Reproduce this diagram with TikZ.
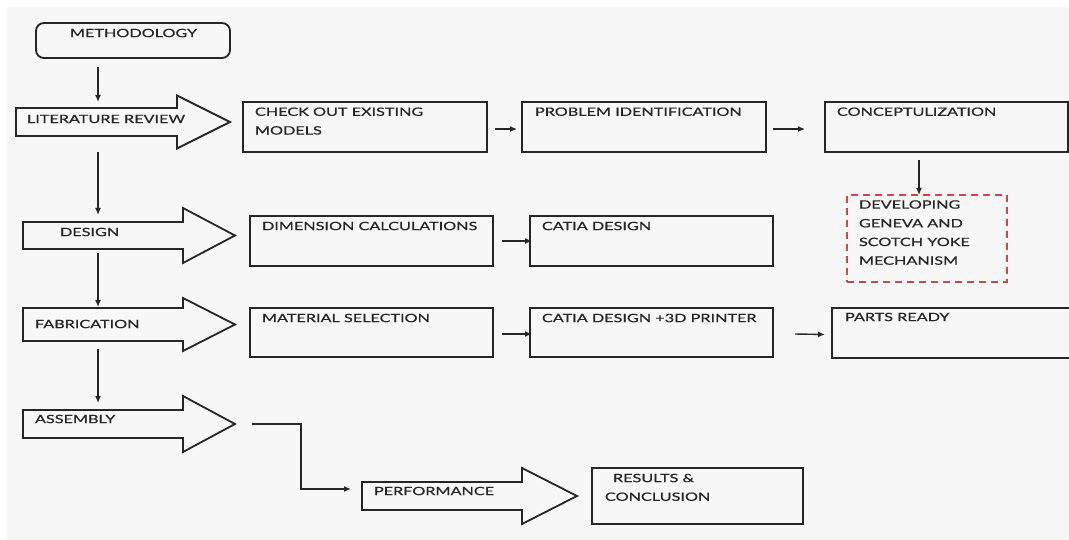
\documentclass[tikz,border=0pt]{standalone}
\usepackage{fontspec}
\setmainfont{Lato}[FakeStretch=1.41,FakeBold=0.6]
\usetikzlibrary{arrows.meta,calc}
\definecolor{bgc}{HTML}{F7F7F7}
\definecolor{ink}{HTML}{262626}
\definecolor{dred}{HTML}{D04545}
\tikzset{
 box/.style={draw=ink, line width=1.8pt, inner sep=0pt, outer sep=0pt},
 dbox/.style={draw=dred, line width=1.5pt, dash pattern=on 7pt off 5pt, inner sep=0pt, outer sep=0pt},
 inv/.style={inner sep=0pt, outer sep=0pt},
 blk/.style={draw=ink, line width=1.8pt, line join=miter},
 conn/.style={draw=ink, line width=1.4pt, -{Latex[length=7pt,width=6pt]}},
 txt/.style={inner sep=0pt, outer sep=0pt, anchor=north west, text=ink, align=left, font=\fontsize{11.5}{18.7}\selectfont},
}
\newcommand\barrow[7]{%
 \node[inv, minimum width={#3-#2}, minimum height={2*#6}] (#1) at ({(#2+#3)/2},#5) {};
 \coordinate (#1-tip) at (#4,#5);
 \draw[blk] (#1.north west) -- (#1.north east) -- (#3,#5-#7) -- (#1-tip) -- (#3,#5+#7) -- (#1.south east) -- (#1.south west) -- cycle;
}
\begin{document}
\begin{tikzpicture}[x=1pt,y=-1pt]
\useasboundingbox (0,0) rectangle (1069,540);
\fill[white] (0,0) rectangle (1069,540);
\fill[bgc] (7,7) rectangle (1069,540);

% boxes
\node[box, rounded corners=8pt, minimum width=194, minimum height=35] (meth) at (133,40.5) {};
\node[box, minimum width=244, minimum height=50] (check) at (365,127) {};
\node[box, minimum width=244, minimum height=50] (prob) at (644,127) {};
\node[box, minimum width=243, minimum height=50] (concept) at (946.5,127) {};
\node[dbox, minimum width=160, minimum height=87] (dev) at (927,238.5) {};
\node[box, minimum width=243, minimum height=50] (dim) at (371.5,241) {};
\node[box, minimum width=243, minimum height=50] (catia) at (651.5,241) {};
\node[box, minimum width=243, minimum height=49] (mat) at (371.5,332.5) {};
\node[box, minimum width=243, minimum height=49] (catia3d) at (651.5,332.5) {};
\node[box, minimum width=242, minimum height=50] (parts) at (953,333) {};
\node[box, minimum width=211, minimum height=56] (results) at (697.5,496) {};

% block arrows
\barrow{lit}{16}{177}{230}{122}{14}{26.5}
\barrow{design}{23}{183}{235}{235.5}{13.5}{27.5}
\barrow{fab}{23}{183}{235}{324.5}{16.5}{26.5}
\barrow{asm}{23}{183}{235}{424}{14}{28}
\barrow{perf}{362}{522}{577}{496}{14}{28}

% texts
\node[txt] (methT) at (70,28.8) {METHODOLOGY};
\node[txt] (litT) at (27,114.8) {LITERATURE REVIEW};
\node[txt] (checkT) at (255,107.5) {CHECK OUT EXISTING\\MODELS};
\node[txt] (probT) at (535,107.5) {PROBLEM IDENTIFICATION};
\node[txt] (conceptT) at (837,107.5) {CONCEPTULIZATION};
\node[txt] (devT) at (859,200.3) {DEVELOPING\\GENEVA AND\\SCOTCH YOKE\\MECHANISM};
\node[txt] (designT) at (60,227.8) {DESIGN};
\node[txt] (dimT) at (262,221.8) {DIMENSION CALCULATIONS};
\node[txt] (catiaT) at (542,221.8) {CATIA DESIGN};
\node[txt] (fabT) at (35,319.8) {FABRICATION};
\node[txt] (matT) at (262,313.8) {MATERIAL SELECTION};
\node[txt] (catia3dT) at (542,313.8) {CATIA DESIGN +3D PRINTER};
\node[txt] (partsT) at (845,312.8) {PARTS READY};
\node[txt] (asmT) at (35,414.8) {ASSEMBLY};
\node[txt] (perfT) at (374,486.8) {PERFORMANCE};
\node[txt] (resultsT) at (605,473.8) {\hspace*{8pt}RESULTS \&\\CONCLUSION};

% connectors
\coordinate (col) at (98,0);
\draw[conn] ($(col |- meth.south)+(0,9)$) -- ($(col |- lit.north)+(0,-6)$);
\draw[conn] ($(col |- lit.south)+(0,16)$) -- ($(col |- design.north)+(0,-7)$);
\draw[conn] ($(col |- design.south)+(0,4)$) -- ($(col |- fab.north)+(0,-1)$);
\draw[conn] ($(col |- fab.south)+(0,8)$) -- ($(col |- asm.north)+(0,-7)$);
\draw[conn] ($(check.east)+(8,2)$) -- ($(prob.west)+(-5,2)$);
\draw[conn] ($(prob.east)+(7,2)$) -- ($(concept.west)+(-20,2)$);
\draw[conn] ($(concept.south -| dev.north)+(-8,8)$) -- ($(dev.north)+(-8,0)$);
\draw[conn] ($(dim.east)+(9,0)$) -- ($(catia.west)+(2,0)$);
\draw[conn] ($(mat.east)+(9,1.5)$) -- ($(catia3d.west)+(2,1.5)$);
\draw[conn] ($(catia3d.east)+(22,1.5)$) -- ($(parts.west)+(-7,1.5)$);
\draw[conn] ($(asm-tip)+(17,0)$) -| ($(perf.west)+(-61,-7)$) -- ($(perf.west)+(-11,-7)$);
\end{tikzpicture}
\end{document}
